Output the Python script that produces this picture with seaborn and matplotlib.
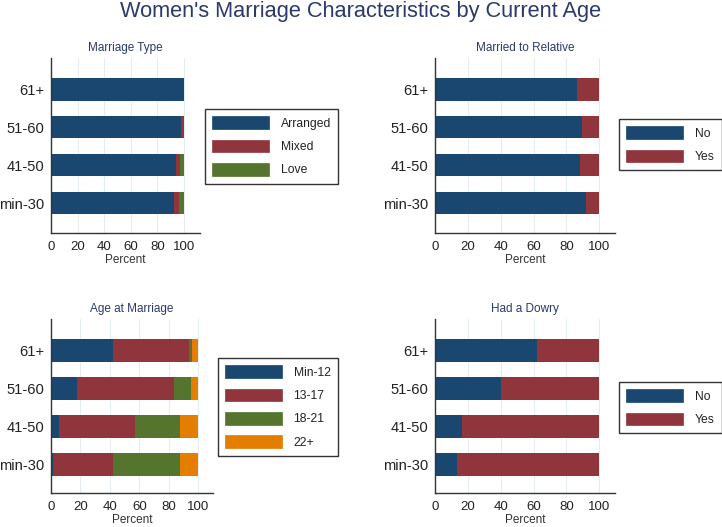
import numpy as np
import matplotlib.pyplot as plt
import seaborn as sns
from matplotlib.patches import Patch

sns.set_style('white')
plt.rcParams['font.family'] = ['Liberation Sans', 'DejaVu Sans']

# age groups, top to bottom
ages = ['61+', '51-60', '41-50', 'min-30']

# Marriage Type (percent)
type_labels = ['Arranged', 'Mixed', 'Love']
arranged = [100, 97.5, 94.0, 92.3]
mixed = [0, 2.5, 3.0, 3.7]
love = [0, 0, 3.0, 4.0]

# Married to Relative
rel_labels = ['No', 'Yes']
rel_no = [86.2, 89.5, 88.2, 91.9]
rel_yes = [13.8, 10.5, 11.8, 8.1]

# Age at Marriage
agem_labels = ['Min-12', '13-17', '18-21', '22+']
min12 = [42.0, 17.9, 5.2, 1.4]
a13_17 = [51.9, 65.5, 51.7, 40.6]
a18_21 = [2.0, 11.4, 30.4, 45.5]
a22 = [4.1, 5.2, 12.7, 12.5]

# Had a Dowry
dowry_labels = ['No', 'Yes']
dowry_no = [62.3, 40.4, 16.2, 13.6]
dowry_yes = [37.7, 59.6, 83.8, 86.4]

colors = ['#1a476f', '#90353b', '#55752f', '#e37e00']
title_col = '#2b3a6b'

fig = plt.figure(figsize=(7.22, 5.27), dpi=100)
W, H = 722, 527


def px_axes(x0, x1, y0, y1):
    return fig.add_axes([x0 / W, 1 - y1 / H, (x1 - x0) / W, (y1 - y0) / H])


def stacked(ax, parts, labels, title, xmax, ylim, leg_x, leg_y):
    cum = np.cumsum(np.array(parts), axis=0)
    # draw from the full total down so each segment shows on top
    for i in reversed(range(len(parts))):
        sns.barplot(x=cum[i], y=ages, color=colors[i], saturation=1,
                    width=0.6, orient='h', ax=ax, linewidth=0, zorder=2)
    ax.set_xlim(0, xmax)
    ax.set_ylim(*ylim)
    ax.set_xticks([0, 20, 40, 60, 80, 100])
    for g in [20, 40, 60, 80, 100]:
        ax.axvline(g, color='#e3edf2', lw=0.8, zorder=0)
    ax.set_xlabel('Percent', fontsize=8.5, labelpad=1, color='#333333')
    ax.set_ylabel('')
    ax.set_title(title, fontsize=8.5, color=title_col, pad=5)
    ax.tick_params(axis='x', labelsize=9.5, length=4, width=0.8,
                   direction='out', pad=1.5, colors='#222222')
    ax.tick_params(axis='y', labelsize=10.6, length=0, pad=4.5, colors='#222222')
    for s in ['top', 'right']:
        ax.spines[s].set_visible(False)
    for s in ['left', 'bottom']:
        ax.spines[s].set_color('#333333')
        ax.spines[s].set_linewidth(1.0)
    handles = [Patch(facecolor=colors[i], edgecolor=colors[i], lw=0.5, label=labels[i])
               for i in range(len(labels))]
    leg = fig.legend(handles=handles, loc='upper left',
                     bbox_to_anchor=(leg_x / W, 1 - leg_y / H),
                     fontsize=8.7, handlelength=4.7, handleheight=1.24,
                     labelspacing=0.82, handletextpad=0.95, borderpad=0.6,
                     borderaxespad=0, fancybox=False, framealpha=1)
    leg.get_frame().set_edgecolor('#333333')
    leg.get_frame().set_linewidth(1.0)
    for t in leg.get_texts():
        t.set_color('#222222')


ax1 = px_axes(51, 200, 58, 233)
stacked(ax1, [arranged, mixed, love], type_labels, 'Marriage Type', 112,
        (3.79, -0.82), 205, 109)

ax2 = px_axes(435, 615, 58, 233)
stacked(ax2, [rel_no, rel_yes], rel_labels, 'Married to Relative', 109.6,
        (3.79, -0.82), 619, 119)

ax3 = px_axes(51, 213, 319, 493)
stacked(ax3, [min12, a13_17, a18_21, a22], agem_labels, 'Age at Marriage', 110,
        (3.76, -0.82), 218, 358)

ax4 = px_axes(435, 615, 319, 493)
stacked(ax4, [dowry_no, dowry_yes], dowry_labels, 'Had a Dowry', 109.6,
        (3.76, -0.82), 619, 382)

fig.text(0.5, 1 - 12 / H, "Women's Marriage Characteristics by Current Age",
         ha='center', va='center', fontsize=15.7, color=title_col)

fig.savefig('out.png', dpi=100)
